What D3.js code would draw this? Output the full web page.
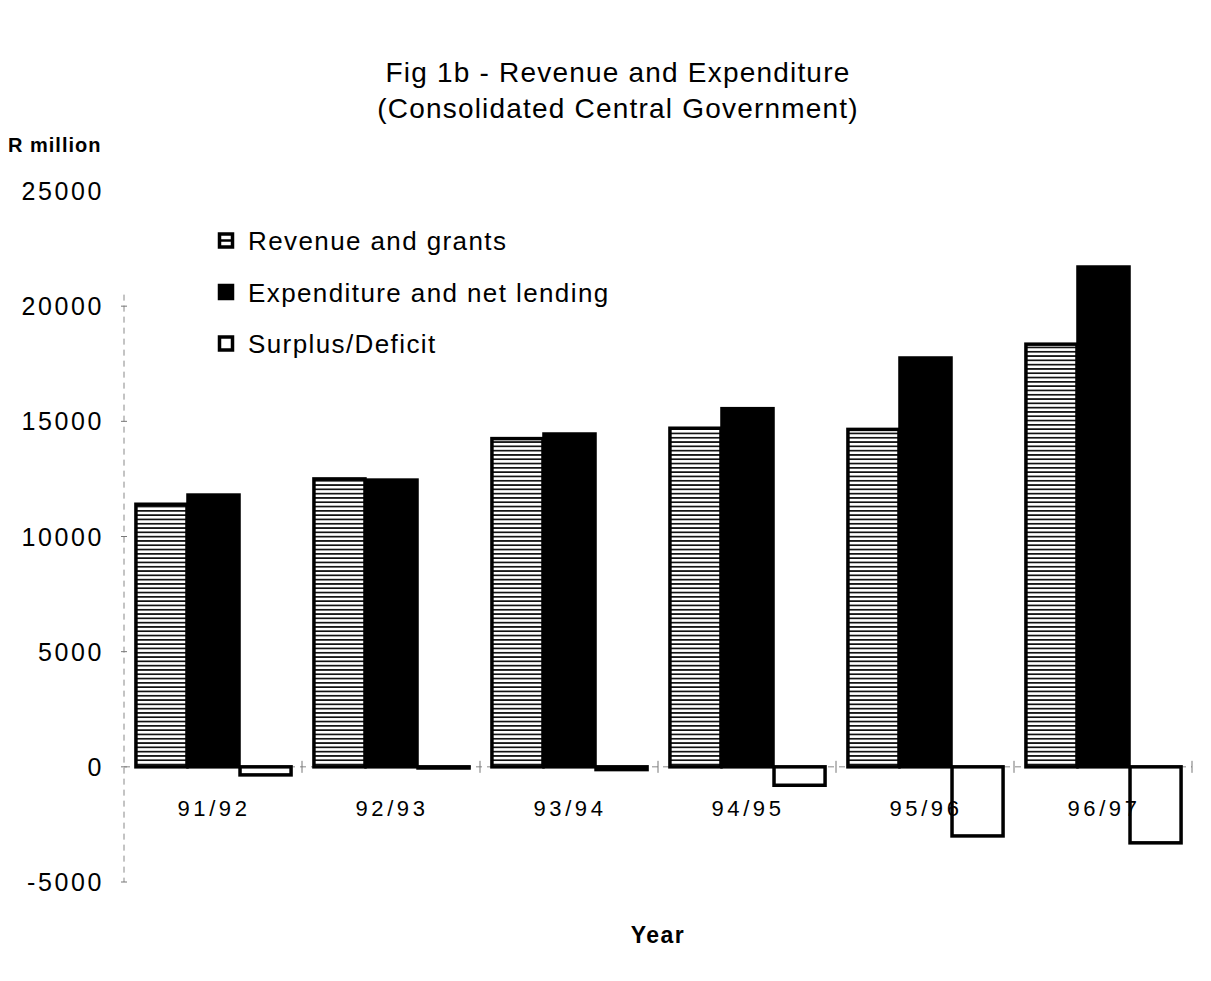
<!DOCTYPE html>
<html>
<head>
<meta charset="utf-8">
<script src="https://cdn.jsdelivr.net/npm/d3@7"></script>
<style>
  body { margin: 0; background: #fff; }
  svg { display: block; font-family: "Liberation Sans", Arial, sans-serif; }
</style>
</head>
<body>
<svg id="chart" width="1211" height="981"></svg>
<script>
// values (R million)
const years = ["91/92", "92/93", "93/94", "94/95", "95/96", "96/97"];
const seriesNames = ["Revenue and grants", "Expenditure and net lending", "Surplus/Deficit"];
const revenue = [11400, 12500, 14250, 14700, 14650, 18350];
const expenditure = [11800, 12450, 14450, 15550, 17750, 21700];
const surplus = [-350, -50, -120, -800, -3000, -3300];
const yTicks = [-5000, 0, 5000, 10000, 15000, 20000, 25000];

const svg = d3.select("#chart");

// horizontal line hatch for revenue bars
const defs = svg.append("defs");
const hatch = defs.append("pattern")
  .attr("id", "hatch")
  .attr("patternUnits", "userSpaceOnUse")
  .attr("width", 8)
  .attr("height", 4.3);
hatch.append("rect").attr("width", 8).attr("height", 4.3).attr("fill", "#fff");
hatch.append("rect").attr("y", 2.6).attr("width", 8).attr("height", 1.7).attr("fill", "#111");

const x = d3.scaleBand().domain(years).range([124, 1192]).padding(0);
const xs = d3.scaleBand().domain(seriesNames).range([0, x.bandwidth()])
  .paddingInner(0).paddingOuter(0.21);
const y = d3.scaleLinear().domain([-5000, 25000]).range([882, 191]);

const rows = years.map((yr, i) => ({
  year: yr,
  vals: [revenue[i], expenditure[i], surplus[i]]
}));

// title
svg.append("text")
  .attr("x", 618).attr("y", 82)
  .attr("text-anchor", "middle")
  .attr("font-size", 28)
  .attr("letter-spacing", 1.2)
  .text("Fig 1b - Revenue and Expenditure");
svg.append("text")
  .attr("x", 618).attr("y", 118)
  .attr("text-anchor", "middle")
  .attr("font-size", 28)
  .attr("letter-spacing", 1.2)
  .text("(Consolidated Central Government)");

svg.append("text")
  .attr("x", 8).attr("y", 152)
  .attr("font-size", 20)
  .attr("font-weight", "bold")
  .attr("letter-spacing", 1)
  .text("R million");

// y axis (dashed, faint)
const yAxis = svg.append("g").attr("transform", "translate(124,0)");
yAxis.append("line")
  .attr("y1", y(20500)).attr("y2", y(-5000))
  .attr("stroke", "#888").attr("stroke-width", 1)
  .attr("stroke-dasharray", "6,5");
yAxis.selectAll(".ytick")
  .data(yTicks.filter(d => d < 25000))
  .join("line")
  .attr("x1", -3).attr("x2", 3)
  .attr("y1", d => y(d)).attr("y2", d => y(d))
  .attr("stroke", "#777");
svg.append("g").selectAll("text")
  .data(yTicks)
  .join("text")
  .attr("x", 104)
  .attr("y", d => y(d) + 9)
  .attr("text-anchor", "end")
  .attr("font-size", 25)
  .attr("letter-spacing", 2.6)
  .text(d => d);

// zero line
const zero = svg.append("g");
zero.append("line")
  .attr("x1", 124).attr("x2", 1192)
  .attr("y1", y(0)).attr("y2", y(0))
  .attr("stroke", "#888").attr("stroke-dasharray", "6,5");
zero.selectAll(".xtick")
  .data(years)
  .join("line")
  .attr("x1", d => x(d) + x.bandwidth()).attr("x2", d => x(d) + x.bandwidth())
  .attr("y1", y(0) - 6).attr("y2", y(0) + 6)
  .attr("stroke", "#777");

// bars
const fills = ["url(#hatch)", "#000", "#fff"];
const groups = svg.append("g").selectAll("g")
  .data(rows)
  .join("g")
  .attr("transform", d => `translate(${x(d.year)},0)`);

groups.selectAll("rect")
  .data(d => d.vals.map((v, i) => ({ name: seriesNames[i], v, i })))
  .join("rect")
  .attr("x", d => xs(d.name) + 1)
  .attr("width", xs.bandwidth() - 1)
  .attr("y", d => y(Math.max(0, d.v)))
  .attr("height", d => Math.abs(y(d.v) - y(0)))
  .attr("fill", d => fills[d.i])
  .attr("stroke", "#000")
  .attr("stroke-width", 3.5);

// category labels
svg.append("g").selectAll("text")
  .data(years)
  .join("text")
  .attr("x", d => x(d) + x.bandwidth() / 2 + 1)
  .attr("y", 816)
  .attr("text-anchor", "middle")
  .attr("font-size", 22)
  .attr("letter-spacing", 3.6)
  .text(d => d);

svg.append("text")
  .attr("x", 658).attr("y", 943)
  .attr("text-anchor", "middle")
  .attr("font-size", 23)
  .attr("font-weight", "bold")
  .attr("letter-spacing", 1.5)
  .text("Year");

// legend
const legend = svg.append("g").attr("transform", "translate(218,0)");
const legendItems = legend.selectAll(".legend-item")
  .data(seriesNames)
  .join("g")
  .attr("class", "legend-item")
  .attr("transform", (d, i) => `translate(0, ${241 + i * 51.5})`);

legendItems.append("rect")
  .attr("x", 1.5).attr("y", -7)
  .attr("width", 13).attr("height", 13)
  .attr("fill", (d, i) => i === 1 ? "#000" : "#fff")
  .attr("stroke", "#000")
  .attr("stroke-width", 3.5);
legendItems.filter((d, i) => i === 0).append("line")
  .attr("x1", 3).attr("x2", 13).attr("y1", -0.5).attr("y2", -0.5)
  .attr("stroke", "#000").attr("stroke-width", 2.5);

legendItems.append("text")
  .attr("x", 30)
  .attr("y", 9)
  .attr("font-size", 26)
  .attr("letter-spacing", 1.4)
  .text(d => d);
</script>
</body>
</html>
